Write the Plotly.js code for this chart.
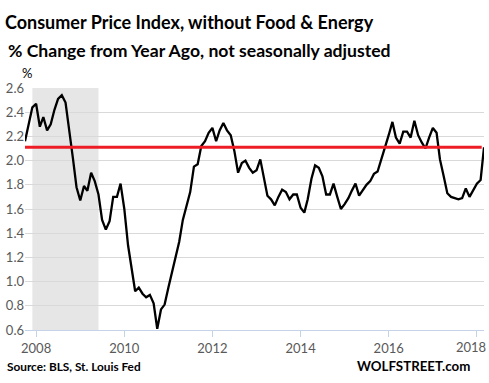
<!DOCTYPE html>
<html><head><meta charset="utf-8">
<script src="https://cdn.plot.ly/plotly-3.0.1.min.js"></script>
<style>html,body{margin:0;padding:0;background:#fff;}#chart{width:489px;height:383px;}</style>
</head><body><div id="chart"></div>
<script>
// Core CPI, % change from year ago (monthly)
const cpi2007 = [2.16, 2.31, 2.44]; // Oct-Dec 2007
const cpi2008 = [2.47, 2.28, 2.36, 2.25, 2.30, 2.42, 2.51, 2.54, 2.48, 2.27, 2.02, 1.78];
const cpi2009 = [1.67, 1.79, 1.75, 1.90, 1.83, 1.72, 1.51, 1.43, 1.50, 1.70, 1.70, 1.81];
const cpi2010 = [1.60, 1.30, 1.10, 0.92, 0.95, 0.90, 0.87, 0.89, 0.82, 0.61, 0.77, 0.81];
const cpi2011 = [0.95, 1.08, 1.19, 1.33, 1.51, 1.63, 1.74, 1.95, 1.97, 2.12, 2.16, 2.23];
const cpi2012 = [2.27, 2.16, 2.25, 2.31, 2.25, 2.21, 2.08, 1.90, 1.98, 2.00, 1.94, 1.90];
const cpi2013 = [1.92, 2.01, 1.87, 1.71, 1.68, 1.63, 1.70, 1.76, 1.74, 1.68, 1.72, 1.72];
const cpi2014 = [1.61, 1.57, 1.68, 1.85, 1.96, 1.94, 1.87, 1.72, 1.72, 1.81, 1.70, 1.60];
const cpi2015 = [1.64, 1.69, 1.75, 1.81, 1.71, 1.76, 1.80, 1.83, 1.89, 1.91, 2.01, 2.09];
const cpi2016 = [2.21, 2.32, 2.19, 2.14, 2.24, 2.24, 2.19, 2.33, 2.21, 2.15, 2.10, 2.19];
const cpi2017 = [2.27, 2.23, 2.01, 1.87, 1.73, 1.70, 1.69, 1.68, 1.69, 1.77, 1.70, 1.76];
const cpi2018 = [1.81, 1.84, 2.11]; // Jan-Mar 2018
const referenceLevel = 2.11;
const recessionStart = '2007-12-01';
const recessionEnd = '2009-06-01';
const yTicks = [0.6, 0.8, 1.0, 1.2, 1.4, 1.6, 1.8, 2.0, 2.2, 2.4, 2.6];
const yTickLabels = ['0.6','0.8','1.0','1.2','1.4','1.6','1.8','2.0','2.2','2.4','2.6'];
const xTickYears = ['2008','2010','2012','2014','2016','2018'];

const byYear = [
  [2007, 10, cpi2007], [2008, 1, cpi2008], [2009, 1, cpi2009], [2010, 1, cpi2010],
  [2011, 1, cpi2011], [2012, 1, cpi2012], [2013, 1, cpi2013], [2014, 1, cpi2014],
  [2015, 1, cpi2015], [2016, 1, cpi2016], [2017, 1, cpi2017], [2018, 1, cpi2018]
];
const dates = [], values = [];
byYear.forEach(([yr, m0, arr]) => {
  arr.forEach((v, i) => {
    const m = m0 + i;
    dates.push(yr + '-' + String(m).padStart(2, '0') + '-01');
    values.push(v);
  });
});

const FONT = 'Lato, "Open Sans", sans-serif';
const TICKFONT = {size: 13, color: '#595959', family: FONT};
const lastYear = xTickYears[xTickYears.length - 1];
const trace = {
  x: dates, y: values, type: 'scatter', mode: 'lines',
  line: {color: '#000', width: 2.3}, hoverinfo: 'skip', showlegend: false
};

const layout = {
  width: 489, height: 383,
  margin: {l: 25, r: 5, t: 88, b: 53},
  paper_bgcolor: '#fff', plot_bgcolor: '#fff',
  font: {family: FONT, color: '#595959'},
  xaxis: {
    type: 'date', range: [dates[0], dates[dates.length - 1]],
    tickvals: xTickYears.map(y => y + '-01-01'),
    // last label is drawn as an annotation, nudged left so it fits inside the page
    ticktext: xTickYears.map(y => y === lastYear ? '' : y),
    showgrid: false, showline: true, linecolor: '#c5d3e8', linewidth: 1,
    ticks: 'outside', ticklen: 6, tickcolor: '#c5d3e8', tickwidth: 1,
    tickfont: TICKFONT, zeroline: false
  },
  yaxis: {
    range: [0.6, 2.6], tickvals: yTicks, ticktext: yTickLabels,
    showgrid: true, gridcolor: '#d9d9d9', gridwidth: 1, zeroline: false,
    showline: false, ticks: '', tickfont: TICKFONT
  },
  shapes: [
    {type: 'rect', xref: 'x', yref: 'paper', x0: recessionStart, x1: recessionEnd, y0: 0, y1: 1,
     fillcolor: '#e6e6e6', line: {width: 0}, layer: 'between'},
    {type: 'line', xref: 'paper', yref: 'y', x0: 0, x1: 0.995, y0: referenceLevel, y1: referenceLevel,
     line: {color: '#ee1c25', width: 3}, layer: 'above'}
  ],
  annotations: [
    {text: '<b>Consumer Price Index, without Food &amp; Energy</b>', xref: 'paper', yref: 'paper',
     x: -25/459, y: 1, yshift: 88 - 22, xanchor: 'left', yanchor: 'middle', showarrow: false,
     font: {size: 18, color: '#000', family: FONT}, xshift: 3},
    {text: '<b>% Change from Year Ago, not seasonally adjusted</b>', xref: 'paper', yref: 'paper',
     x: -25/459, y: 1, yshift: 88 - 50, xanchor: 'left', yanchor: 'middle', showarrow: false,
     font: {size: 17.6, color: '#000', family: FONT}, xshift: 6},
    {text: '%', xref: 'paper', yref: 'paper', x: -25/459, y: 1, yshift: 88 - 73, xanchor: 'left',
     yanchor: 'middle', showarrow: false, font: {size: 13, color: '#000', family: FONT}, xshift: 20},
    {text: lastYear, xref: 'x', yref: 'paper', x: lastYear + '-01-01', y: 0, yshift: -17,
     xshift: -6, xanchor: 'center', yanchor: 'middle', showarrow: false, font: TICKFONT},
    {text: '<b>Source: BLS, St. Louis Fed</b>', xref: 'paper', yref: 'paper', x: -25/459, y: 0,
     yshift: -(366 - 330), xanchor: 'left', yanchor: 'middle', showarrow: false,
     font: {size: 11.8, color: '#000', family: FONT}, xshift: 5},
    {text: '<b>WOLFSTREET.com</b>', xref: 'paper', yref: 'paper', x: 1, y: 0,
     yshift: -(366 - 330), xanchor: 'right', yanchor: 'middle', showarrow: false,
     font: {size: 13.3, color: '#000', family: FONT}, xshift: -12}
  ]
};

Plotly.newPlot('chart', [trace], layout, {staticPlot: true, displayModeBar: false});
</script>
</body></html>
